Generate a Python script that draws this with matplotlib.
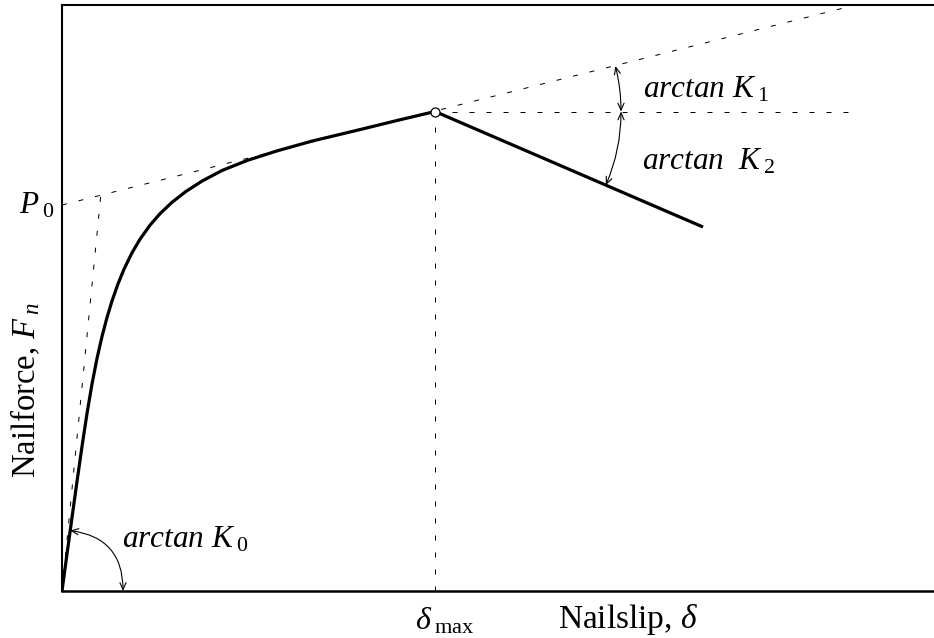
import numpy as np
import matplotlib
matplotlib.use("Agg")
import matplotlib.pyplot as plt
from matplotlib.patches import FancyArrowPatch, ArrowStyle

plt.rcParams["font.family"] = ["Liberation Serif", "DejaVu Serif"]
plt.rcParams["mathtext.fontset"] = "custom"
plt.rcParams["mathtext.rm"] = "Liberation Serif"
plt.rcParams["mathtext.it"] = "Liberation Serif:italic"
plt.rcParams["mathtext.bf"] = "Liberation Serif:bold"

# Nail load-slip envelope (arbitrary units)
slip = [0, 5, 10, 15, 20, 25, 30, 35, 40, 45, 50, 56, 62, 70, 78, 88, 98,
        110, 124, 140, 160, 185, 215, 250, 300, 335, 373]
force = [0, 37, 73.5, 109.5, 144.5, 177.5, 207, 232.5, 254.5, 273.5, 290,
         307.1, 321.8, 338.2, 351.8, 365.8, 377.3, 388.7, 399.6, 409.9,
         420.5, 430.5, 440.1, 449.9, 461.9, 470.5, 479.5]

# Post-peak softening branch
slip_soft = [373, 641]
force_soft = [479.5, 364]

# Model parameters
P0 = 386.0        # intercept of the asymptote
K0 = 10.2         # initial stiffness
K1 = 0.252        # asymptotic stiffness
slip_max = 373
force_max = 479.5
slip_tangent_end = 786
slip_flat_end = 790

W, H = 934, 638
fig = plt.figure(figsize=(W / 100, H / 100), dpi=100)
ax = fig.add_axes([62 / W, 47 / H, 872 / W, 586 / H])
ax.set_xlim(0, 872)
ax.set_ylim(0, 586)
ax.set_xticks([])
ax.set_yticks([])
ax.spines["right"].set_visible(False)
for s in ("left", "top"):
    ax.spines[s].set_linewidth(1.5)
ax.spines["bottom"].set_linewidth(1.8)

dash = dict(color="black", lw=0.72, ls=(0, (5, 12)))

# Asymptote P0 + K1*slip
ax.plot([0, slip_tangent_end], [P0, P0 + K1 * slip_tangent_end], **dash)
# Initial stiffness line up to the asymptote
slip_c = P0 / (K0 - K1)
ax.plot([0, slip_c], [0, K0 * slip_c], **dash)
# Horizontal through the peak and drop line to delta_max
ax.plot([slip_max, slip_flat_end], [force_max, force_max], **dash)
ax.plot([slip_max, slip_max], [0, force_max], **dash)

# Envelope
ax.plot(slip, force, color="black", lw=2.3, solid_joinstyle="round",
        solid_capstyle="butt")
ax.plot(slip_soft, force_soft, color="black", lw=2.3, solid_capstyle="butt")
ax.plot([slip_max], [force_max], "o", mfc="white", mec="black", ms=6.5,
        mew=0.9, zorder=5)


def angle_arrow(cx, cy, r, a0, a1):
    pa = (cx + r * np.cos(a0), cy + r * np.sin(a0))
    pb = (cx + r * np.cos(a1), cy + r * np.sin(a1))
    rad = np.tan((a1 - a0) / 2) / 2
    arr = FancyArrowPatch(pa, pb, connectionstyle=f"arc3,rad={rad:.4f}",
                          arrowstyle=ArrowStyle("<->", head_length=5,
                                                head_width=2.2),
                          color="black", lw=0.8, shrinkA=0, shrinkB=0,
                          mutation_scale=1, clip_on=False)
    ax.add_patch(arr)


K2 = (force_soft[1] - force_soft[0]) / (slip_soft[1] - slip_soft[0])
angle_arrow(0, 0, 61, 0.0, np.arctan2(force[2], slip[2]))
angle_arrow(slip_max, force_max, 186, 0.0, np.arctan(K1))
angle_arrow(slip_max, force_max, 186, np.arctan(K2), 0.0)

fs = 22.5
ax.text(581, 493, r"$arctan\ K_{\;1}$", fontsize=fs, ha="left", va="baseline")
ax.text(580, 421, r"$arctan\ \ K_{\;2}$", fontsize=fs, ha="left", va="baseline")
ax.text(60, 44, r"$arctan\ K_{\;0}$", fontsize=fs, ha="left", va="baseline")

ax.text(-7, 378, r"$P_{\;0}$", fontsize=22.5, ha="right", va="baseline",
        clip_on=False)
ax.text(353, -39, r"$\delta_{\;\mathrm{max}}$", fontsize=23, ha="left",
        va="baseline", clip_on=False)
ax.text(496, -37, r"Nailslip, $\delta$", fontsize=24, ha="left",
        va="baseline", clip_on=False)
fig.text(25 / W, 1 - 390 / H, r"Nailforce, $F_{\;n}$", rotation=90,
         fontsize=23.5, ha="center", va="center")

fig.savefig("out.png", dpi=100)
